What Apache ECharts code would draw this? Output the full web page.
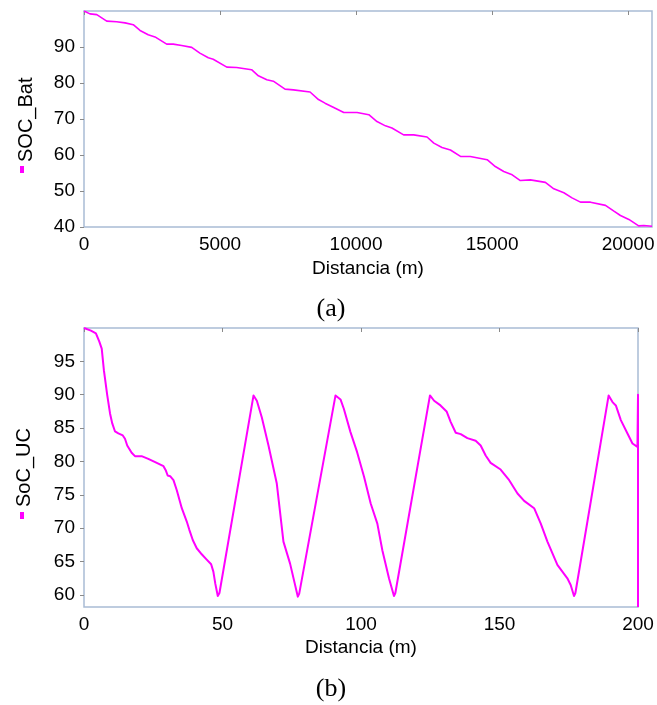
<!DOCTYPE html>
<html>
<head>
<meta charset="utf-8">
<title>SOC</title>
<script src="https://cdn.jsdelivr.net/npm/echarts@6/dist/echarts.min.js"></script>
<style>
html, body { margin: 0; padding: 0; background: #fff; }
#chart { width: 657px; height: 705px; }
</style>
</head>
<body>
<div id="chart"></div>
<script>
// (a) SOC de la batería [distancia (m), SOC]
const batCurve = [
	[0, 100], [220, 99.2], [470, 99], [835, 97.2], [1200, 97], [1510, 96.7], [1810, 96.2],
	[2060, 94.6], [2360, 93.4], [2610, 92.8], [3040, 90.8], [3280, 90.8], [3590, 90.4],
	[3960, 89.9], [4260, 88.3], [4570, 87], [4750, 86.6], [5250, 84.4], [5610, 84.3],
	[6160, 83.7], [6410, 82], [6720, 80.9], [6960, 80.5], [7390, 78.3], [7700, 78.1],
	[8310, 77.5], [8620, 75.4], [8860, 74.4], [9180, 73.2], [9550, 71.8], [10040, 71.8],
	[10470, 71.2], [10770, 69.3], [11080, 68.1], [11320, 67.5], [11750, 65.6], [12120, 65.6],
	[12610, 65], [12860, 63.3], [13160, 62.1], [13470, 61.4], [13840, 59.6], [14200, 59.6],
	[14820, 58.7], [15120, 56.8], [15430, 55.4], [15740, 54.5], [16040, 52.9], [16410, 53.1],
	[16960, 52.4], [17270, 50.6], [17640, 49.5], [17940, 48.1], [18250, 46.9], [18620, 46.9],
	[19170, 46], [19480, 44.4], [19720, 43.2], [20030, 42.1], [20390, 40.3], [20580, 40.4],
	[20880, 40.2]
];
// (b) SoC del ultracondensador [distancia (m), SoC]
const ucCurve = [
	[0, 100], [2.5, 99.6], [4.3, 99.2], [5.5, 98.0], [6.4, 96.9], [7.2, 93.6], [8.4, 89.9],
	[9.4, 87.2], [10.2, 85.7], [11.2, 84.5], [12.4, 84.2], [14.0, 83.9], [14.8, 83.4],
	[15.6, 82.4], [17.2, 81.3], [18.4, 80.8], [20.8, 80.8], [23.2, 80.4], [25.7, 79.9],
	[28.7, 79.3], [29.5, 78.7], [30.2, 77.9], [31.1, 77.8], [32.3, 77.2], [33.5, 75.7],
	[35.3, 73.0], [37.1, 71.0], [38.0, 69.8], [39.3, 68.2], [40.7, 67.0], [42.5, 66.1],
	[44.3, 65.3], [45.9, 64.6], [46.7, 63.5], [47.4, 61.7], [48.3, 59.85], [48.9, 60.3],
	[61.2, 89.9], [62.4, 89.1], [64.2, 86.6],
	[66.6, 82.4], [69.6, 76.7], [72.0, 68.0], [74.4, 64.7], [77.2, 59.75], [77.7, 60.2],
	[90.8, 89.9], [92.6, 89.3], [93.8, 87.9], [96.2, 84.4], [98.6, 81.4],
	[101.1, 77.7], [103.5, 73.7], [105.9, 70.7], [107.7, 66.7], [110.1, 62.5], [111.9, 59.85],
	[112.4, 60.3], [124.9, 89.9], [126.4, 89.1], [128.7, 88.4],
	[130.9, 87.5], [132.4, 85.9], [134.2, 84.3], [136.0, 84.1], [138.4, 83.5], [141.4, 83.1],
	[143.2, 82.4], [145.0, 80.9], [146.8, 79.8], [150.4, 78.8], [153.5, 77.2], [156.5, 75.2],
	[158.9, 74.1], [162.5, 73.0], [164.9, 70.7], [167.3, 68.0], [170.9, 64.5], [174.5, 62.5],
	[175.7, 61.5], [176.9, 59.85], [177.4, 60.3], [189.4, 89.9],
	[190.8, 88.9], [192.0, 88.4], [193.8, 86.2], [196.2, 84.2], [198.0, 82.7], [199.8, 82.2],
	[200, 82.2], [200, 90], [200, 58.2]
];
const batXTicks = [0, 5000, 10000, 15000, 20000];
const batYTicks = [40, 50, 60, 70, 80, 90];
const ucXTicks = [0, 50, 100, 150, 200];
const ucYTicks = [60, 65, 70, 75, 80, 85, 90, 95];

const FONT = "Liberation Sans";
const MAGENTA = "#ff00ff";
const FRAME = "#a9bcd5";

const chart = echarts.init(document.getElementById("chart"));

// eje con etiquetas (abajo / izquierda)
function mainAxis(grid, min, max, ticks, pos, name, gap) {
	return {
		type: "value",
		gridIndex: grid,
		position: pos,
		min: min,
		max: max,
		axisLine: { show: false },
		axisTick: { show: false },
		splitLine: { show: false },
		axisLabel: {
			customValues: ticks,
			formatter: (v) => String(v),
			color: "#000",
			fontFamily: FONT,
			fontSize: 19,
			margin: pos === "left" ? 9 : 8,
		},
		name: name,
		nameLocation: "middle",
		nameGap: gap || 0,
		nameTextStyle: { color: "#000", fontFamily: FONT, fontSize: 19 },
	};
}
// eje espejo sólo con marcas hacia dentro
function tickAxis(grid, min, max, ticks, pos) {
	return {
		type: "value",
		gridIndex: grid,
		position: pos,
		min: min,
		max: max,
		axisLine: { show: false },
		axisLabel: { show: false },
		splitLine: { show: false },
		axisTick: {
			show: true,
			inside: true,
			length: 4,
			customValues: ticks,
			lineStyle: { color: "#8a8a8a", width: 1 },
		},
	};
}

const option = {
	backgroundColor: "#fff",
	animation: false,
	grid: [
		{ left: 84, top: 11, width: 568, height: 216, show: true, borderColor: FRAME, borderWidth: 1.5, outerBoundsMode: "none" },
		{ left: 84, top: 328, width: 554, height: 279, show: true, borderColor: FRAME, borderWidth: 1.5, outerBoundsMode: "none" },
	],
	xAxis: [
		mainAxis(0, 0, 20880, batXTicks, "bottom", "Distancia (m)", 32),
		tickAxis(0, 0, 20880, batXTicks, "top"),
		mainAxis(1, 0, 200, ucXTicks, "bottom", "Distancia (m)", 31),
		tickAxis(1, 0, 200, ucXTicks, "top"),
	],
	yAxis: [
		mainAxis(0, 40, 100, batYTicks, "left", ""),
		tickAxis(0, 40, 100, batYTicks, "right"),
		mainAxis(1, 58.2, 100, ucYTicks, "left", ""),
		tickAxis(1, 58.2, 100, ucYTicks, "right"),
	],
	series: [
		{
			type: "line",
			xAxisIndex: 0,
			yAxisIndex: 0,
			data: batCurve,
			showSymbol: false,
			lineStyle: { color: MAGENTA, width: 1.6 },
		},
		{
			type: "line",
			xAxisIndex: 2,
			yAxisIndex: 2,
			data: ucCurve,
			showSymbol: false,
			lineStyle: { color: MAGENTA, width: 2, join: "round" },
		},
	],
	graphic: [
		// leyendas verticales
		{ type: "text", x: 16, y: 162, rotation: Math.PI / 2, style: { text: "SOC_Bat", fill: "#000", font: "20px " + FONT, textVerticalAlign: "top" } },
		{ type: "rect", shape: { x: 20, y: 166, width: 4, height: 7 }, style: { fill: MAGENTA } },
		{ type: "text", x: 14, y: 507, rotation: Math.PI / 2, style: { text: "SoC_UC", fill: "#000", font: "20px " + FONT, textVerticalAlign: "top" } },
		{ type: "rect", shape: { x: 20, y: 512, width: 4, height: 7 }, style: { fill: MAGENTA } },
		// rótulos (a) y (b)
		{ type: "text", x: 331, y: 309, style: { text: "(a)", fill: "#000", font: "26px 'Liberation Serif'", textAlign: "center", textVerticalAlign: "middle" } },
		{ type: "text", x: 331, y: 689, style: { text: "(b)", fill: "#000", font: "26px 'Liberation Serif'", textAlign: "center", textVerticalAlign: "middle" } },
	],
};
chart.setOption(option);
</script>
</body>
</html>
